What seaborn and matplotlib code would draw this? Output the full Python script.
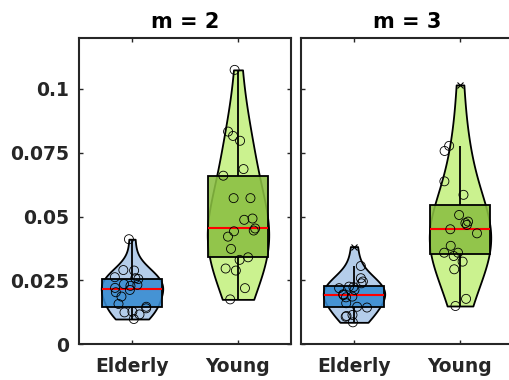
import numpy as np
import pandas as pd
import matplotlib
matplotlib.use("Agg")
import matplotlib.pyplot as plt
from matplotlib.colors import to_rgba
import seaborn as sns

groups = ["Elderly", "Young"]
titles = ["m = 2", "m = 3"]
elderly_m2 = [0.0098, 0.0116, 0.0124, 0.0127, 0.0140, 0.0146, 0.0157, 0.0186, 0.0203, 0.0212,
              0.0220, 0.0228, 0.0232, 0.0235, 0.0255, 0.0258, 0.0262, 0.0288, 0.0290, 0.0411]
young_m2 = [0.0175, 0.0219, 0.0288, 0.0296, 0.0330, 0.0340, 0.0373, 0.0421, 0.0442, 0.0445,
            0.0453, 0.0487, 0.0492, 0.0572, 0.0572, 0.0660, 0.0686, 0.0797, 0.0816, 0.0833, 0.1075]
elderly_m3 = [0.0085, 0.0107, 0.0110, 0.0114, 0.0143, 0.0146, 0.0160, 0.0183, 0.0186, 0.0192,
              0.0195, 0.0212, 0.0219, 0.0223, 0.0225, 0.0238, 0.0245, 0.0258, 0.0306, 0.0382]
young_m3 = [0.0149, 0.0177, 0.0293, 0.0323, 0.0345, 0.0358, 0.0358, 0.0385, 0.0434, 0.0450,
            0.0467, 0.0474, 0.0480, 0.0506, 0.0585, 0.0638, 0.0757, 0.0777, 0.1016]
yticks = [0, 0.025, 0.05, 0.075, 0.1]
ytick_labels = ["0", "0.025", "0.05", "0.075", "0.1"]

violin_colors = {"Elderly": "#b4cdea", "Young": "#cbf28f"}
box_colors = {"Elderly": "#368bd2", "Young": "#8abf42"}

np.random.seed(3)
plt.rcParams["font.family"] = ["DejaVu Sans"]
plt.rcParams["font.weight"] = "bold"

fig = plt.figure(figsize=(5.1, 3.8), dpi=100)
ax1 = fig.add_axes([79 / 510, 36 / 380, 212 / 510, 306 / 380])
ax2 = fig.add_axes([301 / 510, 36 / 380, 212 / 510, 306 / 380])


def inliers(vals):
    # points outside the whiskers are drawn as x by the boxplot only
    q1, q3 = np.percentile(vals, [25, 75])
    lo, hi = q1 - 1.5 * (q3 - q1), q3 + 1.5 * (q3 - q1)
    return [v for v in vals if lo <= v <= hi]


panels = [(ax1, elderly_m2, young_m2), (ax2, elderly_m3, young_m3)]
for i, (ax, e, y) in enumerate(panels):
    df = pd.DataFrame({"group": ["Elderly"] * len(e) + ["Young"] * len(y), "value": e + y})
    ei, yi = inliers(e), inliers(y)
    pts = pd.DataFrame({"group": ["Elderly"] * len(ei) + ["Young"] * len(yi), "value": ei + yi})

    sns.violinplot(data=df, x="group", y="value", hue="group", order=groups, hue_order=groups,
                   palette=violin_colors, saturation=1, cut=0, inner=None, density_norm="width",
                   width=0.58, bw_adjust=1.25, linecolor="k", linewidth=1.3, legend=False, ax=ax)
    n_before = len(ax.patches)
    sns.boxplot(data=df, x="group", y="value", hue="group", order=groups, hue_order=groups,
                palette=box_colors, saturation=1, width=0.575, whis=1.5, showcaps=False,
                linecolor="k", linewidth=1.3, medianprops=dict(color="red", linewidth=1.5),
                flierprops=dict(marker="x", markersize=4, markeredgecolor="k", markeredgewidth=0.8),
                legend=False, ax=ax)
    for p in ax.patches[n_before:]:
        p.set_facecolor(to_rgba(p.get_facecolor(), 0.88))
    n_coll = len(ax.collections)
    sns.stripplot(data=pts, x="group", y="value", order=groups, color="k", size=6.5,
                  jitter=0.17, ax=ax)
    for c in ax.collections[n_coll:]:
        c.set_facecolor("none")
        c.set_edgecolor("k")
        c.set_linewidth(0.6)

    ax.set_xlim(-0.5, 1.5)
    ax.set_ylim(0, 0.12)
    ax.set_yticks(yticks)
    ax.set_yticklabels(ytick_labels)
    ax.set_xlabel("")
    ax.set_ylabel("")
    ax.set_title(titles[i], fontsize=15, fontweight="bold", pad=7)
    ax.tick_params(direction="in", top=True, right=True, length=3, width=1,
                   labelsize=13.5, pad=7, colors="#262626", labelcolor="#262626")
    ax.tick_params(axis="x", pad=9)
    if i == 1:
        ax.tick_params(labelleft=False)
    for s in ax.spines.values():
        s.set_linewidth(1.5)
        s.set_color("#262626")

fig.savefig("out.png", dpi=100)
